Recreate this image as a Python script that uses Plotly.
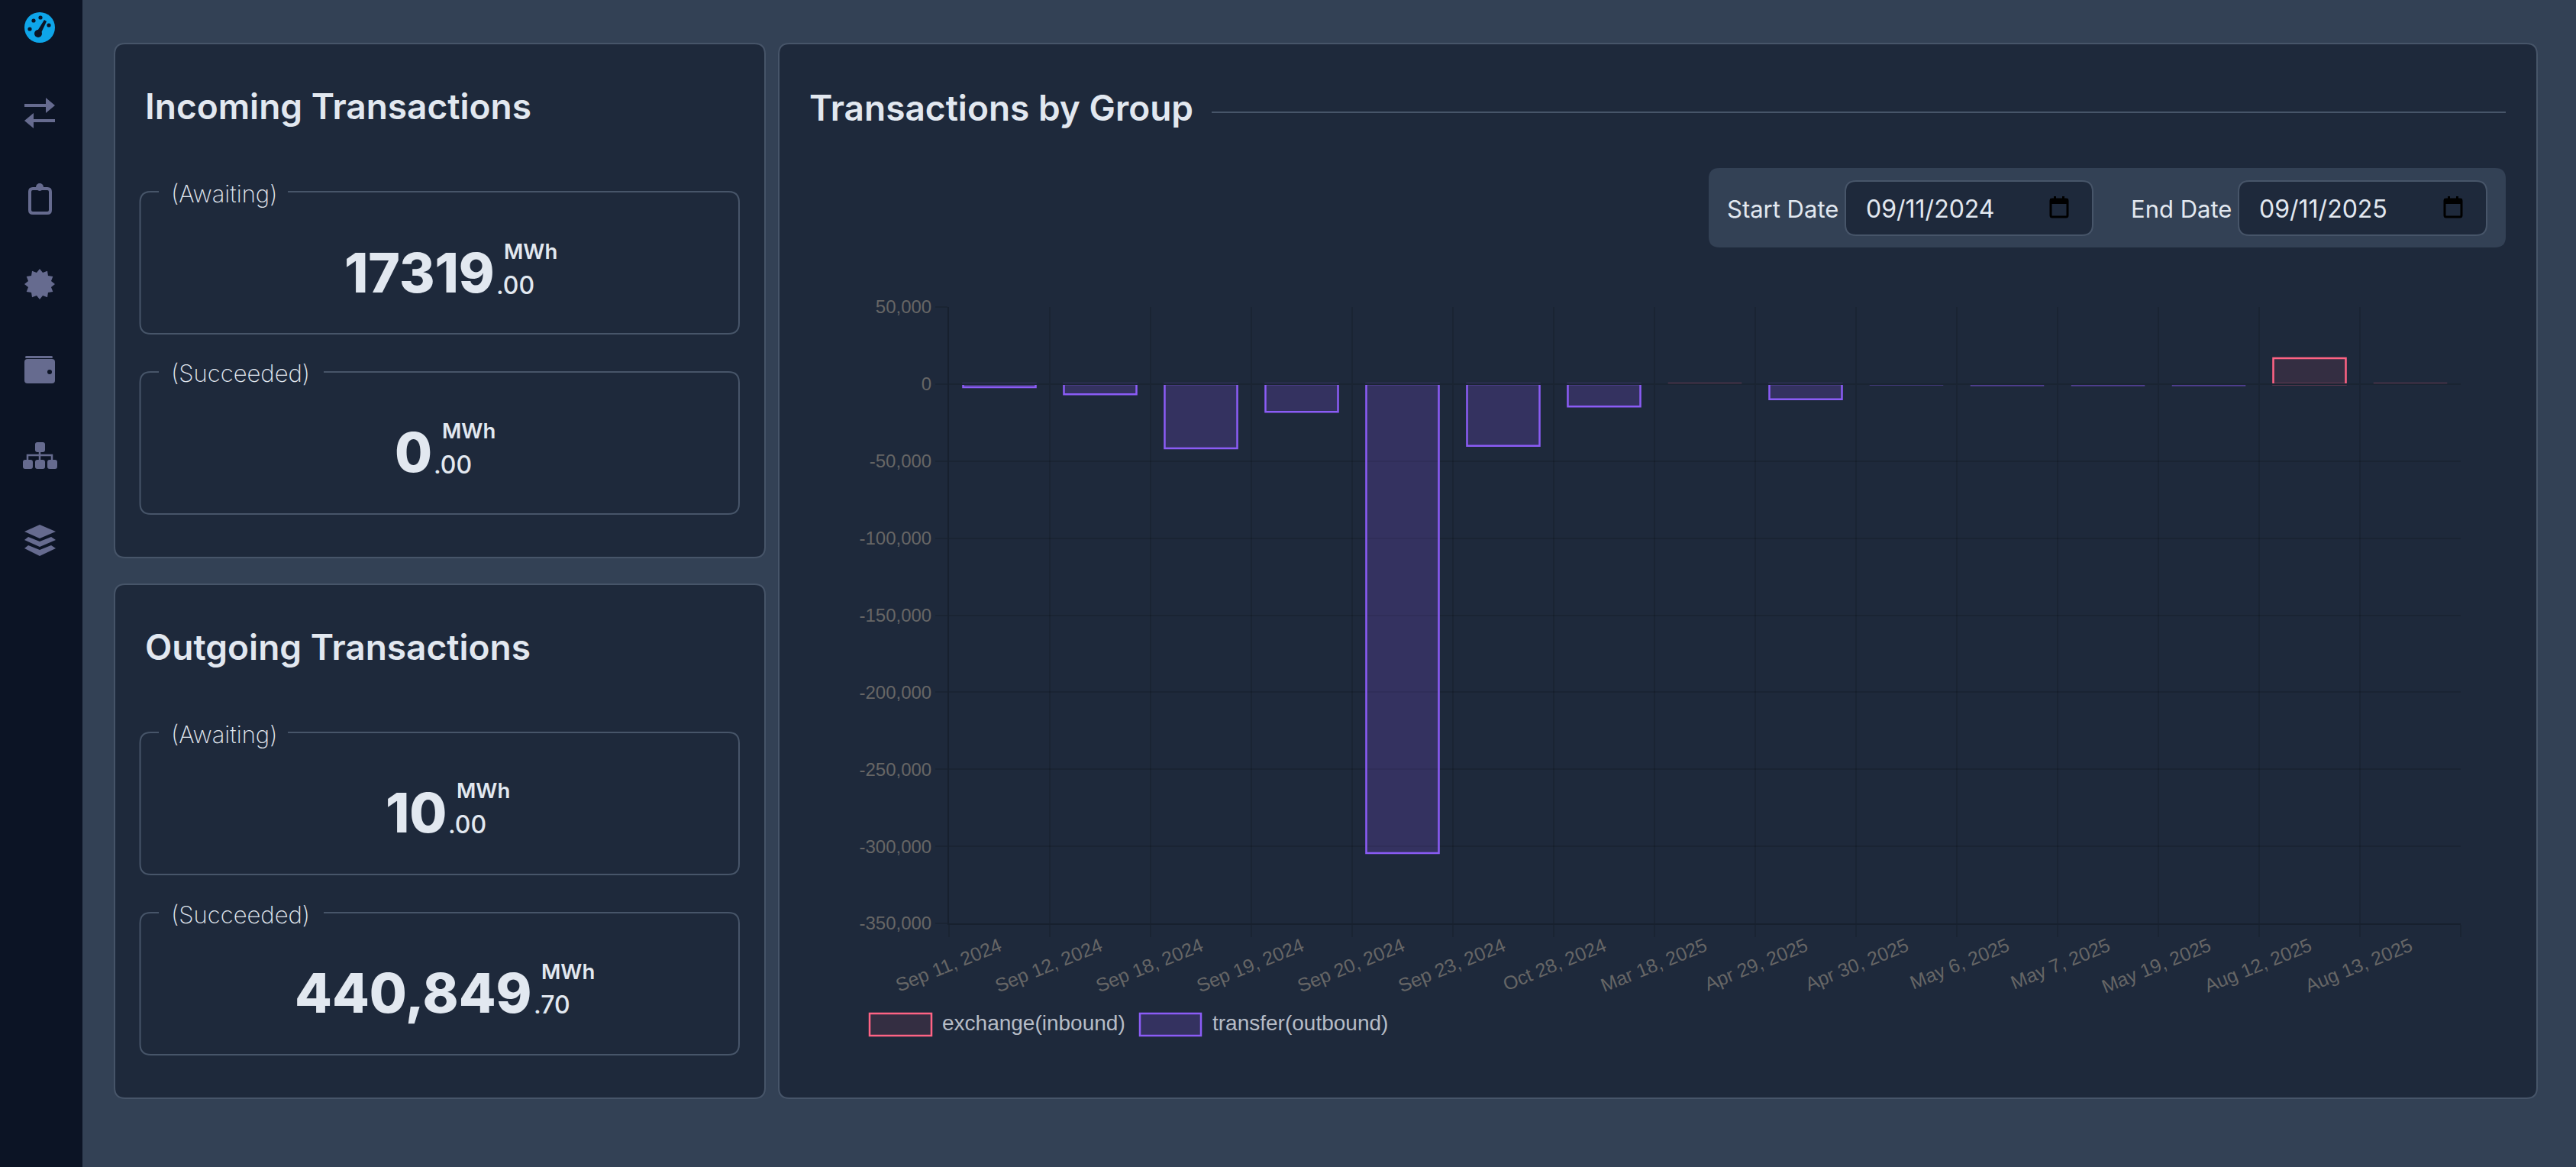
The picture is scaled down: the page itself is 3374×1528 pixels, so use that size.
#!/usr/bin/env python3
"""Energy transactions dashboard, summary cards and bar chart by group"""
import math
import plotly.graph_objects as go

W, H = 3374, 1528

# chart data
dates = ["Sep 11, 2024", "Sep 12, 2024", "Sep 18, 2024", "Sep 19, 2024", "Sep 20, 2024",
         "Sep 23, 2024", "Oct 28, 2024", "Mar 18, 2025", "Apr 29, 2025", "Apr 30, 2025",
         "May 6, 2025", "May 7, 2025", "May 19, 2025", "Aug 12, 2025", "Aug 13, 2025"]
exchange_inbound = [None, None, None, None, None, None, None, 400, None, None,
                    None, None, None, 16800, 400]
transfer_outbound = [-2000, -6600, -41700, -18000, -304400, -40100, -14500, None, -9900, -600,
                     -1100, -1100, -1100, None, None]
y_ticks = [50000, 0, -50000, -100000, -150000, -200000, -250000, -300000, -350000]
y_tick_labels = ["50,000", "0", "-50,000", "-100,000", "-150,000", "-200,000",
                 "-250,000", "-300,000", "-350,000"]
series_names = ["exchange(inbound)", "transfer(outbound)"]

# summary cards
card_titles = ["Incoming Transactions", "Outgoing Transactions"]
status_labels = ["(Awaiting)", "(Succeeded)"]
whole_parts = ["17319", "0", "10", "440,849"]
decimal_parts = [".00", ".00", ".00", ".70"]
unit = "MWh"
panel_title = "Transactions by Group"
date_labels = ["Start Date", "End Date"]
date_values = ["09/11/2024", "09/11/2025"]

PAGE = "#334155"
CARD = "#1e293b"
BORDER = "#475569"
SIDEBAR = "#0c1425"
TEXT = "#e2e8f0"
ICON = "#666b8f"
PINK = "rgb(255,99,132)"
PURPLE = "rgb(139,92,246)"
GRID = "rgba(0,0,0,0.12)"

shapes = []
annotations = []


def px(x):
    return x / W


def py(y):
    return 1 - y / H


def path_from(points, close=True):
    d = "M" + " L".join(f"{px(x):.5f},{py(y):.5f}" for x, y in points)
    return d + (" Z" if close else "")


def rrect_path(x0, y0, x1, y1, r):
    c = lambda x, y: f"{px(x):.5f},{py(y):.5f}"
    return (f"M{c(x0 + r, y0)} L{c(x1 - r, y0)} Q{c(x1, y0)} {c(x1, y0 + r)} "
            f"L{c(x1, y1 - r)} Q{c(x1, y1)} {c(x1 - r, y1)} L{c(x0 + r, y1)} "
            f"Q{c(x0, y1)} {c(x0, y1 - r)} L{c(x0, y0 + r)} Q{c(x0, y0)} {c(x0 + r, y0)} Z")


def add_path(d, fill=None, line=None, width=0):
    shapes.append(dict(type="path", path=d, xref="paper", yref="paper", layer="below",
                       fillcolor=fill if fill else "rgba(0,0,0,0)",
                       line=dict(color=line if line else "rgba(0,0,0,0)", width=width)))


def add_rrect(x0, y0, x1, y1, r, fill=None, line=None, width=0):
    add_path(rrect_path(x0, y0, x1, y1, r), fill, line, width)


def add_circle(cx, cy, r, fill):
    shapes.append(dict(type="circle", xref="paper", yref="paper", layer="below",
                       x0=px(cx - r), x1=px(cx + r), y0=py(cy + r), y1=py(cy - r),
                       fillcolor=fill, line=dict(width=0)))


def add_text(x, y, s, size, color=TEXT, weight=400, anchor="left", family="Inter"):
    annotations.append(dict(x=px(x), y=py(y), xref="paper", yref="paper", text=s, showarrow=False,
                            xanchor=anchor, yanchor="middle", borderpad=0,
                            font=dict(family=family, size=size, color=color, weight=weight)))


def add_fieldset(x0, y0, x1, y1, gap0, gap1, r=14):
    # rounded box with a gap in the top edge for its label
    c = lambda x, y: f"{px(x):.5f},{py(y):.5f}"
    d = (f"M{c(gap1, y0)} L{c(x1 - r, y0)} Q{c(x1, y0)} {c(x1, y0 + r)} "
         f"L{c(x1, y1 - r)} Q{c(x1, y1)} {c(x1 - r, y1)} L{c(x0 + r, y1)} "
         f"Q{c(x0, y1)} {c(x0, y1 - r)} L{c(x0, y0 + r)} Q{c(x0, y0)} {c(x0 + r, y0)} L{c(gap0, y0)}")
    add_path(d, None, BORDER, 2)


def draw_sidebar():
    shapes.append(dict(type="rect", xref="paper", yref="paper", layer="below", x0=0, x1=px(108),
                       y0=0, y1=1, fillcolor=SIDEBAR, line=dict(width=0)))
    # gauge
    add_circle(52, 36, 20, "#0ea5e9")
    for dx, dy in [(-13, 2), (-8, -9), (1, -13), (12, -3)]:
        add_circle(52 + dx, 36 + dy, 2.6, SIDEBAR)
    add_circle(50, 44, 5, SIDEBAR)
    add_path(path_from([(48, 42), (58, 26), (61, 28), (53, 45)]), SIDEBAR)
    # transfer arrows
    add_path(path_from([(32, 136), (60, 136), (60, 128), (72, 138), (60, 148), (60, 140), (32, 140)]), ICON)
    add_path(path_from([(72, 156), (44, 156), (44, 148), (32, 158), (44, 168), (44, 160), (72, 160)]), ICON)
    # clipboard
    add_rrect(39, 247, 66, 279, 4, None, ICON, 4)
    add_circle(52, 245, 5, ICON)
    # badge
    star = []
    for i in range(24):
        a = math.pi * i / 12
        r = 20 if i % 2 == 0 else 15.5
        star.append((52 + r * math.cos(a), 372 + r * math.sin(a)))
    add_path(path_from(star), ICON)
    # wallet
    add_rrect(32, 470, 72, 502, 4, ICON)
    add_rrect(33, 466, 69, 469, 1.5, ICON)
    add_circle(65, 487, 3, SIDEBAR)
    # sitemap
    add_rrect(46, 579, 59, 592, 3, ICON)
    for x in (30, 46, 62):
        add_rrect(x, 602, x + 13, 614, 3, ICON)
    add_path(path_from([(36, 603), (36, 596), (68, 596), (68, 603)], close=False), None, ICON, 2.5)
    add_path(path_from([(52, 590), (52, 603)], close=False), None, ICON, 2.5)
    # layers
    add_path(path_from([(52, 687), (73, 696), (52, 705), (32, 696)]), ICON)
    add_path(path_from([(37, 703), (52, 709), (67, 703), (73, 707), (52, 716), (32, 707)]), ICON)
    add_path(path_from([(37, 714), (52, 720), (67, 714), (73, 718), (52, 728), (32, 718)]), ICON)


def draw_card(top, title, title_y, boxes):
    add_rrect(150, top, 1002, top + 673, 14, CARD, BORDER, 2)
    add_text(189, title_y, title, 46, weight=600)
    for i, box in enumerate(boxes):
        y0, y1 = box["y"]
        gap1 = 377 if i == 0 else 424
        add_fieldset(183.5, y0, 968, y1, 208, gap1)
        add_text(223, y0 + 2, status_labels[i], 31, weight=200)
        add_text(box["x"], box["num_y"], box["whole"], 71, weight=800, anchor="right")
        add_text(box["x"], box["dec_y"], box["dec"], 32, weight=500)
        add_text(box["x"] + box["unit_dx"], box["unit_y"], unit, 27.5, weight=600)


def draw_date_panel():
    add_rrect(2238, 220, 3282, 324, 14, PAGE)
    inputs = [(2417, 2741, 2261, 2443), (2932, 3257, 2790, 2958)]
    for i, (x0, x1, label_x, value_x) in enumerate(inputs):
        add_rrect(x0, 237, x1, 308, 14, CARD, BORDER, 2)
        add_text(label_x, 273, date_labels[i], 31)
        add_text(value_x, 273, date_values[i], 32)
        # calendar glyph
        cx = x1 - 44
        add_rrect(cx - 11, 261, cx + 11, 284, 2, None, "#000000", 3)
        add_path(path_from([(cx - 12, 260), (cx + 12, 260), (cx + 12, 267), (cx - 12, 267)]), "#000000")
        add_path(path_from([(cx - 7, 257), (cx - 4, 257), (cx - 4, 262), (cx - 7, 262)]), "#000000")
        add_path(path_from([(cx + 4, 257), (cx + 7, 257), (cx + 7, 262), (cx + 4, 262)]), "#000000")


def draw_legend():
    boxes = [(1139, 1220, 1233, "rgba(255,99,132,0.1)", PINK),
             (1493, 1573, 1587, "rgba(139,92,246,0.2)", PURPLE)]
    for name, (x0, x1, tx, fill, edge) in zip(series_names, boxes):
        shapes.append(dict(type="rect", xref="paper", yref="paper", layer="below",
                           x0=px(x0), x1=px(x1), y0=py(1356), y1=py(1327),
                           fillcolor=fill, line=dict(color=edge, width=2.5)))
        add_text(tx, 1339, name, 28, color="#b6bcc6", family="Liberation Sans")


draw_sidebar()
draw_card(57, card_titles[0], 139, [
    dict(y=(251, 437), x=649, whole=whole_parts[0], dec=decimal_parts[0], num_y=357, dec_y=373,
         unit_dx=10, unit_y=329),
    dict(y=(487, 673), x=567, whole=whole_parts[1], dec=decimal_parts[1], num_y=592, dec_y=608,
         unit_dx=11, unit_y=564),
])
draw_card(765, card_titles[1], 847, [
    dict(y=(959, 1145), x=586, whole=whole_parts[2], dec=decimal_parts[2], num_y=1064, dec_y=1079,
         unit_dx=11, unit_y=1035),
    dict(y=(1195, 1381), x=698, whole=whole_parts[3], dec=decimal_parts[3], num_y=1300, dec_y=1315,
         unit_dx=10, unit_y=1272),
])

# main panel
add_rrect(1020, 57, 3323, 1438, 14, CARD, BORDER, 2)
add_text(1059, 141, panel_title, 46, weight=600)
add_path(path_from([(1587, 147), (3282, 147)], close=False), None, BORDER, 2)
draw_date_panel()
draw_legend()

# top edge of the bars sits on the base line, the reference has no border there
shapes.append(dict(type="line", xref="paper", yref="y", layer="above", x0=px(1243), x1=px(3223),
                   y0=0, y1=0, line=dict(color="#1a2432", width=2)))


def bar_line(values, rgb):
    # near-zero bars only show as a faint hairline
    widths = [2.5 if v and abs(v) > 1500 else 1.5 for v in values]
    colors = [f"rgb({rgb})" if v and abs(v) > 1500 else f"rgba({rgb},0.45)" for v in values]
    return dict(color=colors, width=widths)


fig = go.Figure()
fig.add_trace(go.Bar(
    x=dates, y=exchange_inbound, name=series_names[0], width=0.72,
    marker=dict(color="rgba(255,99,132,0.1)", line=bar_line(exchange_inbound, "255,99,132"))))
fig.add_trace(go.Bar(
    x=dates, y=transfer_outbound, name=series_names[1], width=0.72,
    marker=dict(color="rgba(139,92,246,0.2)", line=bar_line(transfer_outbound, "139,92,246"))))

fig.update_layout(
    width=W, height=H,
    margin=dict(l=0, r=0, t=0, b=0, autoexpand=False),
    barmode="relative",
    showlegend=False,
    paper_bgcolor=PAGE,
    plot_bgcolor="rgba(0,0,0,0)",
    shapes=shapes,
    annotations=annotations,
    font=dict(family="Liberation Sans"),
    xaxis=dict(
        domain=[px(1243), px(3223)],
        automargin=False,
        type="category",
        range=[-0.5, 14.5],
        tickson="boundaries",
        ticks="outside",
        ticklen=16,
        tickwidth=2,
        tickcolor=GRID,
        tickangle=-22,
        ticklabelstandoff=4,
        tickfont=dict(size=25, color="#666666"),
        showgrid=True,
        gridcolor=GRID,
        gridwidth=2,
        showline=True,
        linecolor="rgba(0,0,0,0.22)",
        linewidth=2,
        fixedrange=True,
    ),
    yaxis=dict(
        domain=[py(1209), py(402)],
        automargin=False,
        range=[-350000, 50000],
        tickvals=y_ticks,
        ticktext=y_tick_labels,
        ticks="outside",
        ticklen=16,
        tickwidth=2,
        tickcolor=GRID,
        tickfont=dict(size=24, color="#666666"),
        showgrid=True,
        gridcolor=GRID,
        gridwidth=2,
        zeroline=False,
        showline=True,
        linecolor="rgba(0,0,0,0.22)",
        linewidth=2,
        fixedrange=True,
    ),
)

fig.write_html("out.html", config=dict(displayModeBar=False),
               post_script="document.body.style.margin='0';document.body.style.overflow='hidden';")
